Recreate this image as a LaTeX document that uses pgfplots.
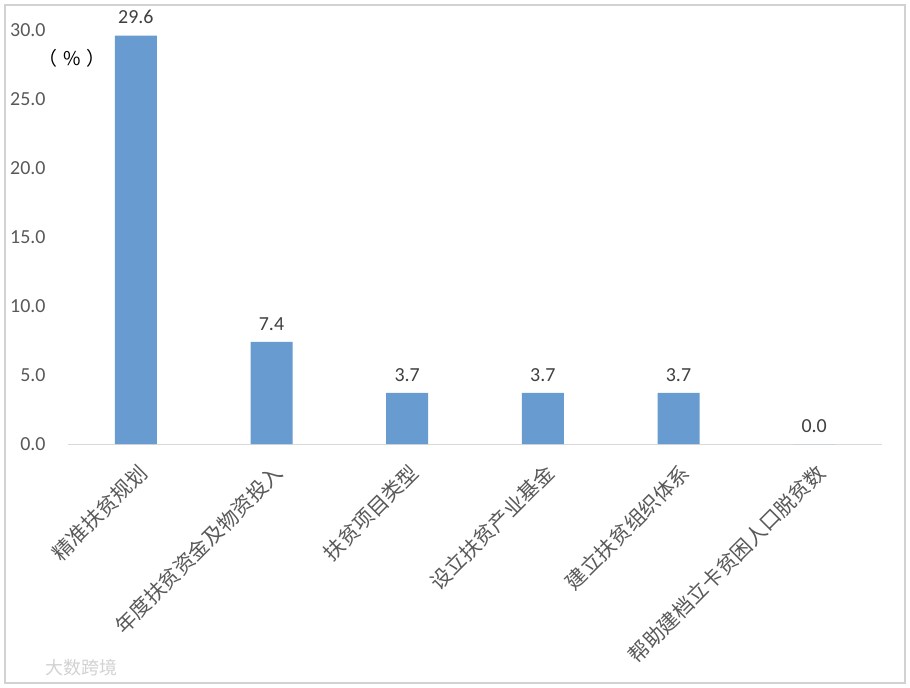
\documentclass[border=0pt]{standalone}
\usepackage{pgfplots}
\pgfplotsset{compat=1.18}
\usepackage{fontspec}
\setmainfont{Carlito}
\newfontfamily\cjk{Noto Sans CJK SC}
\definecolor{barblue}{RGB}{104,155,208}
\definecolor{ticklab}{RGB}{89,89,89}
\definecolor{datalab}{RGB}{64,64,64}
\definecolor{axisgray}{RGB}{217,217,217}
\definecolor{framegray}{RGB}{210,210,210}
\begin{document}
\begin{tikzpicture}
\useasboundingbox (0,0) rectangle (910bp,688bp);
\fill[white] (0,0) rectangle (910bp,688bp);
\draw[framegray, line width=1.2bp] (5bp,5bp) rectangle (905bp,683bp);
\begin{axis}[
  at={(68bp,244bp)}, anchor=south west,
  scale only axis, width=814bp, height=414bp,
  xmin=-0.5, xmax=5.5, ymin=0, ymax=30,
  axis lines*=left,
  x axis line style={axisgray, line width=1bp, -},
  y axis line style={draw=none},
  ytick={0,5,...,30},
  xtick={0,1,2,3,4,5},
  xticklabels={精准扶贫规划,年度扶贫资金及物资投入,扶贫项目类型,设立扶贫产业基金,建立扶贫组织体系,帮助建档立卡贫困人口脱贫数},
  major tick length=0pt,
  xticklabel style={font=\cjk\fontsize{20.7}{20.7}\selectfont, text=ticklab, rotate=45, anchor=east, xshift=-9bp, yshift=-23bp},
  yticklabel style={font=\fontsize{20}{20}\selectfont, text=ticklab, xshift=-19bp},
  yticklabel={\pgfmathprintnumber[fixed,fixed zerofill,precision=1]{\tick}},
  /pgf/number format/assume math mode=true,
  ybar, bar width=42bp,
  nodes near coords={\pgfmathprintnumber[fixed,fixed zerofill,precision=1]{\pgfplotspointmeta}},
  nodes near coords style={font=\fontsize{20}{20}\selectfont, text=datalab, yshift=8bp},
  clip=false,
]
\addplot[fill=barblue, draw=none] coordinates {(0,29.6) (1,7.4) (2,3.7) (3,3.7) (4,3.7) (5,0.0)};
\node[font=\cjk\fontsize{19}{19}\selectfont, text=black, anchor=center] at (axis cs:-0.47,27.97) {（\hspace{6bp}\%\hspace{6bp}）};
\end{axis}
\node[font=\cjk\fontsize{18}{18}\selectfont, text=gray!35, anchor=west] at (42bp,20bp) {大数跨境};
\end{tikzpicture}
\end{document}
